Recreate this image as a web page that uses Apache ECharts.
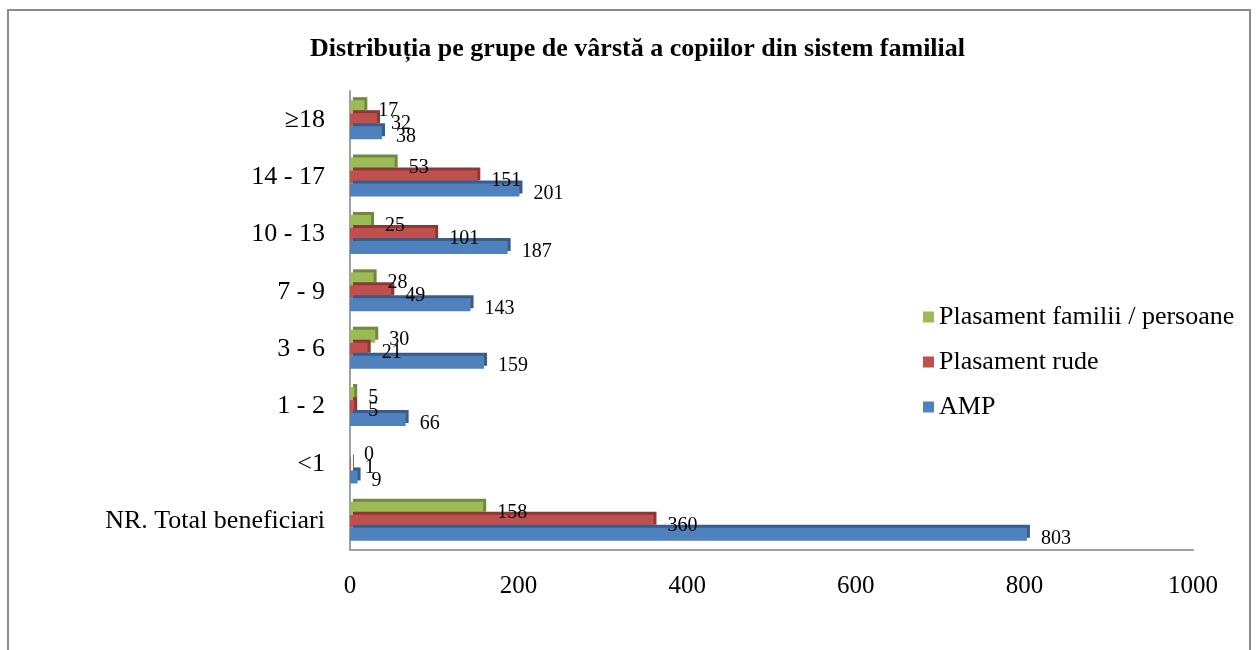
<!DOCTYPE html>
<html>
<head>
<meta charset="utf-8">
<script src="https://cdn.jsdelivr.net/npm/echarts@6/dist/echarts.min.js"></script>
<style>
  html, body { margin: 0; padding: 0; background: #fff; }
  #main { width: 1258px; height: 650px; }
</style>
</head>
<body>
<div id="main"></div>
<script>
// categories, bottom to top (echarts puts the first one at the bottom)
var categories = ['NR. Total beneficiari', '<1', '1 - 2', '3 - 6', '7 - 9', '10 - 13', '14 - 17', '≥18'];
var amp = [803, 9, 66, 159, 143, 187, 201, 38];
var rude = [360, 1, 5, 21, 49, 101, 151, 32];
var familii = [158, 0, 5, 30, 28, 25, 53, 17];
var xTicks = [0, 200, 400, 600, 800, 1000];

var serif = '"Liberation Serif", "DejaVu Serif", serif';

function bar(name, data, color, shade) {
  return {
    name: name,
    type: 'bar',
    data: data,
    barWidth: 13,
    barGap: '0%',
    itemStyle: {
      color: color,
      shadowColor: shade,
      shadowOffsetX: 3,
      shadowOffsetY: -3,
      shadowBlur: 0
    },
    label: {
      show: true,
      position: 'right',
      distance: 14,
      offset: [0, 4],
      color: '#000',
      fontFamily: serif,
      fontSize: 20
    }
  };
}

var myChart = echarts.init(document.getElementById('main'));

myChart.setOption({
  animation: false,
  title: {
    text: 'Distribuția pe grupe de vârstă a copiilor din sistem familial',
    left: 305,
    top: 31,
    textStyle: { fontFamily: serif, fontSize: 26, fontWeight: 'bold', color: '#000' }
  },
  legend: {
    orient: 'vertical',
    left: 918,
    top: 299,
    itemWidth: 11,
    itemHeight: 11,
    itemGap: 19,
    icon: 'rect',
    data: ['Plasament familii / persoane', 'Plasament rude', 'AMP'],
    textStyle: { fontFamily: serif, fontSize: 26, color: '#000' }
  },
  graphic: [{
    type: 'rect',
    shape: { x: 8, y: 10, width: 1242, height: 700 },
    style: { fill: 'none', stroke: '#8c8c8c', lineWidth: 2 }
  }],
  grid: { left: 350, right: 65, top: 91, bottom: 100 },
  xAxis: {
    type: 'value',
    min: 0,
    max: 1000,
    interval: 200,
    splitLine: { show: false },
    axisLine: { show: true, lineStyle: { color: '#a0a0a0', width: 2 } },
    axisTick: { show: false },
    axisLabel: {
      margin: 24,
      fontFamily: serif,
      fontSize: 25,
      color: '#000',
      formatter: function (v) { return xTicks.indexOf(v) >= 0 ? String(v) : ''; }
    }
  },
  yAxis: {
    type: 'category',
    data: categories,
    axisLine: { show: true, lineStyle: { color: '#a0a0a0', width: 2 } },
    axisTick: { show: false },
    axisLabel: { margin: 25, fontFamily: serif, fontSize: 26, color: '#000' }
  },
  series: [
    bar('Plasament familii / persoane', familii, '#9bbb59', '#71893f'),
    bar('Plasament rude', rude, '#c0504d', '#8c3836'),
    bar('AMP', amp, '#4f81bd', '#385d8a')
  ]
});
</script>
</body>
</html>
